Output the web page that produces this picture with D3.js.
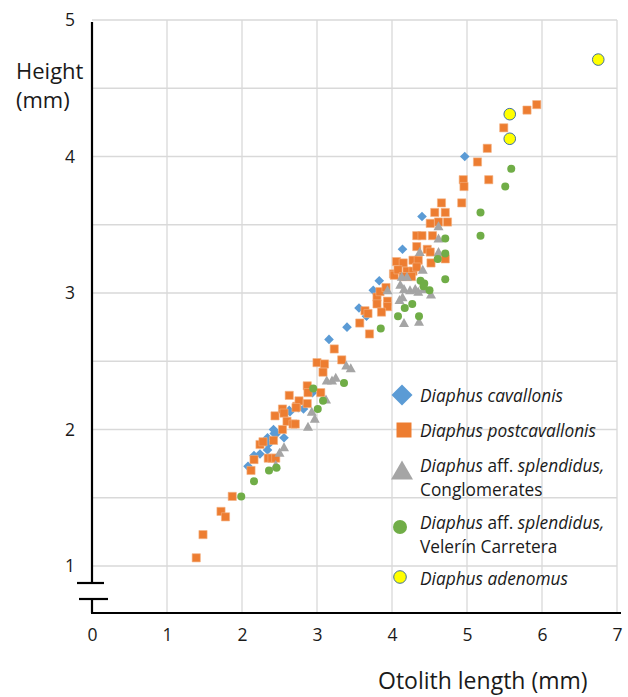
<!DOCTYPE html>
<html><head><meta charset="utf-8">
<script src="https://cdn.jsdelivr.net/npm/d3@7"></script>
<style>
html,body{margin:0;padding:0;background:#fff;}
svg{display:block;font-family:"Open Sans",sans-serif;}
</style></head>
<body><svg id="c" width="628" height="697"></svg>
<script>
// ---- data ----
const xTicks = [0,1,2,3,4,5,6,7];
const yTicks = [1,2,3,4,5];
const seriesNames = ["Diaphus cavallonis","Diaphus postcavallonis","Diaphus aff. splendidus, Conglomerates","Diaphus aff. splendidus, Velerín Carretera","Diaphus adenomus"];
const cavallonis = [[2.08,1.73],[2.16,1.81],[2.24,1.82],[2.34,1.85],[2.35,1.89],[2.34,1.94],[2.42,2.0],[2.43,1.97],[2.46,1.97],[2.56,1.94],[2.64,2.13],[2.75,2.16],[2.63,2.14],[2.82,2.15],[2.94,2.27],[3.16,2.66],[3.40,2.75],[3.56,2.89],[3.66,2.83],[3.75,3.02],[3.83,3.09],[4.14,3.32],[4.40,3.56],[4.97,4.0]];
const postcavallonis = [[1.39,1.06],[1.48,1.23],[1.72,1.40],[1.78,1.36],[1.87,1.51],[2.12,1.70],[2.16,1.78],[2.35,1.79],[2.40,1.79],[2.45,1.79],[2.24,1.89],[2.28,1.91],[2.42,1.92],[2.54,2.0],[2.44,2.10],[2.54,2.15],[2.56,2.12],[2.60,2.06],[2.68,2.04],[2.71,2.04],[2.63,2.25],[2.73,2.17],[2.76,2.21],[2.72,2.16],[2.87,2.19],[2.87,2.32],[2.88,2.27],[3.05,2.27],[3.00,2.49],[3.10,2.48],[3.08,2.42],[3.23,2.59],[3.33,2.51],[3.57,2.78],[3.70,2.70],[3.64,2.87],[3.68,2.85],[3.80,2.97],[3.80,2.92],[3.94,2.94],[3.94,2.90],[3.86,2.86],[3.84,3.01],[3.92,3.04],[4.02,3.14],[4.03,3.13],[4.06,3.23],[4.15,3.22],[4.28,3.24],[4.35,3.24],[4.08,3.17],[4.20,3.16],[4.28,3.16],[4.33,3.19],[4.26,3.12],[4.15,3.12],[4.33,3.42],[4.40,3.42],[4.54,3.42],[4.33,3.34],[4.47,3.32],[4.51,3.30],[4.71,3.25],[4.52,3.22],[4.51,3.51],[4.62,3.52],[4.74,3.52],[4.57,3.59],[4.71,3.59],[4.66,3.66],[4.93,3.66],[4.95,3.83],[4.96,3.78],[5.29,3.83],[5.14,3.96],[5.27,4.06],[5.49,4.21],[5.80,4.34],[5.93,4.38]];
const conglomerates = [[2.45,1.74],[2.50,1.83],[2.56,1.87],[2.88,2.02],[2.93,2.13],[2.97,2.08],[3.12,2.22],[3.13,2.36],[3.20,2.36],[3.25,2.38],[3.39,2.47],[3.45,2.45],[3.94,3.02],[4.10,2.95],[4.14,2.97],[4.11,3.06],[4.13,3.12],[4.20,3.12],[4.16,3.03],[4.24,3.02],[4.31,3.03],[4.35,3.01],[4.42,3.03],[4.41,3.17],[4.37,3.30],[4.52,2.99],[4.16,2.78],[4.36,2.79],[4.62,3.30],[4.62,3.40],[4.62,3.49]];
const velerin = [[1.99,1.51],[2.16,1.62],[2.36,1.70],[2.46,1.72],[2.95,2.30],[3.01,2.15],[3.08,2.21],[3.36,2.34],[3.85,2.74],[4.08,2.83],[4.17,2.89],[4.27,2.92],[4.36,2.83],[4.38,3.09],[4.43,3.07],[4.50,3.02],[4.42,3.05],[4.71,3.10],[4.61,3.25],[4.71,3.29],[4.71,3.40],[5.18,3.42],[5.18,3.59],[5.51,3.78],[5.59,3.91]];
const adenomus = [[5.57,4.31],[5.57,4.13],[6.75,4.71]];

// ---- chart ----
const svg = d3.select("#c");
const x = d3.scaleLinear().domain([0,7]).range([92,617]);
const y = d3.scaleLinear().domain([1,5]).range([566,20]);
const xAxisY = 613;
const gridCol = "#d9d9d9";
const txt = "#1a1a1a";

// gridlines
const g = svg.append("g");
g.selectAll(".vg").data(xTicks.slice(1)).join("line")
  .attr("x1",d=>x(d)).attr("x2",d=>x(d)).attr("y1",y(5)).attr("y2",xAxisY)
  .attr("stroke",gridCol).attr("stroke-width",1.3);
const hGrid = d3.range(1,5.01,0.5);
g.selectAll(".hg").data(hGrid).join("line")
  .attr("x1",x(0)).attr("x2",x(7)).attr("y1",d=>y(d)).attr("y2",d=>y(d))
  .attr("stroke",gridCol).attr("stroke-width",1.3);

// axes labels via d3 axes
const xAxis = svg.append("g").attr("transform",`translate(0,${xAxisY})`)
  .call(d3.axisBottom(x).tickValues(xTicks).tickSize(0).tickPadding(16).tickFormat(d3.format("d")));
xAxis.select(".domain").remove();
xAxis.selectAll("text").attr("font-size",17.5).attr("fill",txt).attr("font-family","'Open Sans',sans-serif");

const yAxis = svg.append("g").attr("transform",`translate(${x(0)},0)`)
  .call(d3.axisLeft(y).tickValues(yTicks).tickSize(0).tickPadding(17).tickFormat(d3.format("d")));
yAxis.select(".domain").remove();
yAxis.selectAll("text").attr("font-size",17.5).attr("fill",txt).attr("font-family","'Open Sans',sans-serif");

// axis lines with break
const ax = svg.append("g").attr("stroke","#000").attr("stroke-width",2.2).attr("fill","none");
ax.append("line").attr("x1",x(0)).attr("x2",x(0)).attr("y1",22).attr("y2",583);
ax.append("line").attr("x1",77).attr("x2",104).attr("y1",583).attr("y2",583);
ax.append("line").attr("x1",79).attr("x2",108).attr("y1",599).attr("y2",599);
ax.append("line").attr("x1",x(0)).attr("x2",x(0)).attr("y1",599).attr("y2",xAxisY);
ax.append("line").attr("x1",x(0)-1).attr("x2",621).attr("y1",xAxisY).attr("y2",xAxisY);

// axis titles
svg.append("text").attr("x",16).attr("y",79).attr("font-size",22).attr("fill",txt).text("Height");
svg.append("text").attr("x",16).attr("y",108).attr("font-size",22).attr("fill",txt).text("(mm)");
svg.append("text").attr("x",378).attr("y",689).attr("font-size",23).attr("fill",txt).text("Otolith length (mm)");

// marker shapes
function diamond(cx,cy,r){return `M${cx},${cy-r}L${cx+r},${cy}L${cx},${cy+r}L${cx-r},${cy}Z`;}
function square(cx,cy,h){return `M${cx-h},${cy-h}h${2*h}v${2*h}h${-2*h}Z`;}
function tri(cx,cy,w,h){return `M${cx},${cy-h*0.55}L${cx+w/2},${cy+h*0.45}L${cx-w/2},${cy+h*0.45}Z`;}

const pts = svg.append("g");
pts.selectAll(".cav").data(cavallonis).join("path")
  .attr("d",d=>diamond(x(d[0]),y(d[1]),4.8)).attr("fill","#5b9bd5");
pts.selectAll(".post").data(postcavallonis).join("path")
  .attr("d",d=>square(x(d[0]),y(d[1]),4.1)).attr("fill","#ed7d31").attr("stroke","#f4b183").attr("stroke-width",0.6);
pts.selectAll(".con").data(conglomerates).join("path")
  .attr("d",d=>tri(x(d[0]),y(d[1]),10,9)).attr("fill","#a5a5a5");
pts.selectAll(".vel").data(velerin).join("circle")
  .attr("cx",d=>x(d[0])).attr("cy",d=>y(d[1])).attr("r",4).attr("fill","#70ad47");
pts.selectAll(".ade").data(adenomus).join("circle")
  .attr("cx",d=>x(d[0])).attr("cy",d=>y(d[1])).attr("r",5.8).attr("fill","#ffff00").attr("stroke","#41719c").attr("stroke-width",1);

// legend
const lg = svg.append("g").attr("font-size",17.3).attr("fill",txt);
lg.append("path").attr("d",diamond(402,395,10.5)).attr("fill","#5b9bd5");
lg.append("path").attr("d",square(404,430,7.5)).attr("fill","#ed7d31");
lg.append("path").attr("d",tri(402,471,22,19)).attr("fill","#a5a5a5");
lg.append("circle").attr("cx",400).attr("cy",527).attr("r",7).attr("fill","#70ad47");
lg.append("circle").attr("cx",400).attr("cy",577).attr("r",6.3).attr("fill","#ffff00").attr("stroke","#41719c").attr("stroke-width",1);

function legendLine(yy, parts){
  const t = lg.append("text").attr("x",420).attr("y",yy).attr("dominant-baseline","central");
  parts.forEach(p=>t.append("tspan").attr("font-style",p[1]?"italic":"normal").text(p[0]));
}
legendLine(395,[["Diaphus cavallonis",true]]);
legendLine(430,[["Diaphus postcavallonis",true]]);
legendLine(465,[["Diaphus",true],[" aff. ",false],["splendidus,",true]]);
legendLine(489,[["Conglomerates",false]]);
legendLine(522,[["Diaphus",true],[" aff. ",false],["splendidus,",true]]);
legendLine(546,[["Velerín Carretera",false]]);
legendLine(578,[["Diaphus adenomus",true]]);
</script></body></html>
